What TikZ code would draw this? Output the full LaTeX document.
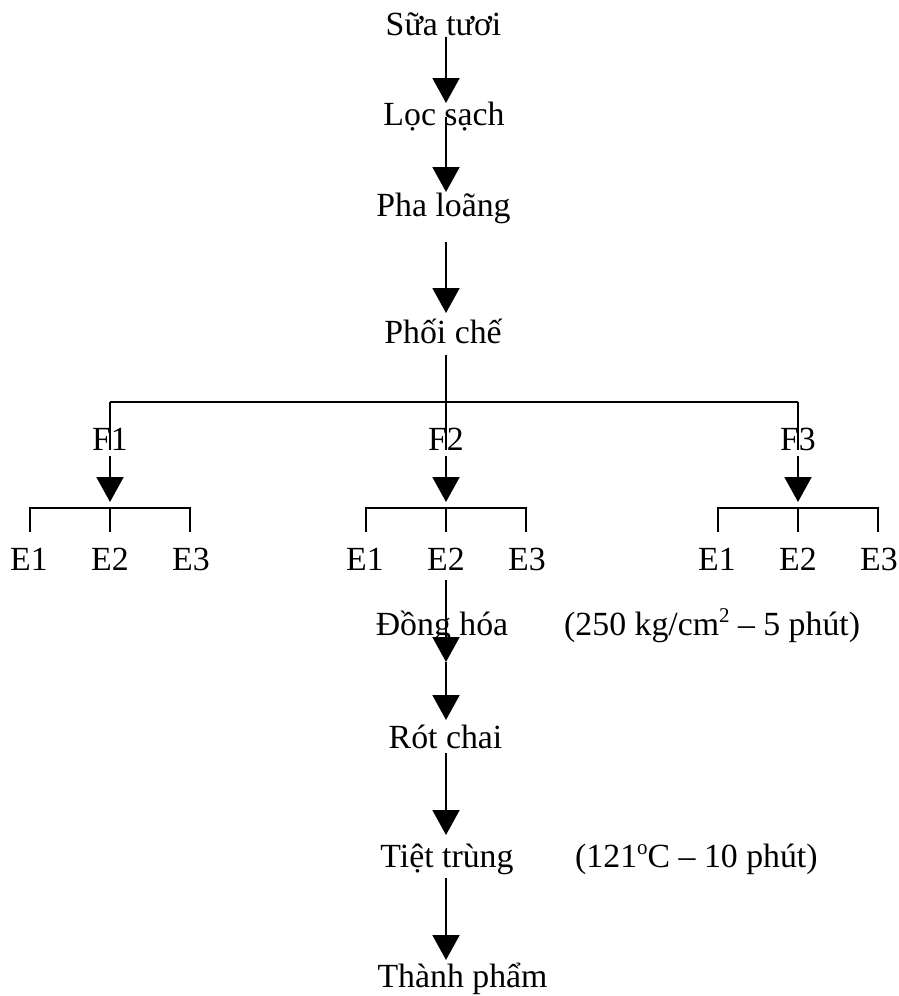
\documentclass[tikz,border=0pt]{standalone}
\usepackage{fontspec}
\setmainfont{Liberation Serif}
\usetikzlibrary{arrows.meta}
% small raised text for units and degrees
\newcommand\upscr[1]{\raisebox{0.36em}{\fontsize{21}{21}\selectfont #1}}
\begin{document}
\begin{tikzpicture}[x=1pt,y=-1pt,
  lbl/.style={inner sep=0pt, anchor=base, font=\fontsize{33.8}{40}\selectfont},
  note/.style={lbl, anchor=base west},
  link/.style={line width=2pt},
  flow/.style={link, -{Triangle[width=27pt,length=25pt]}}]
\useasboundingbox (0,0) rectangle (899,996);

% main process steps
\node[lbl] (sua)  at (443.5,35)  {Sữa tươi};
\node[lbl] (loc)  at (444,125)   {Lọc sạch};
\node[lbl] (pha)  at (443.5,216) {Pha loãng};
\node[lbl] (phoi) at (443,343)   {Phối chế};
\node[lbl] (dong) at (442,635)   {Đồng hóa};
\node[note] (dongnote) at (564,635) {(250 kg/cm\upscr{2} – 5 phút)};
\node[lbl] (rot)  at (445.5,748) {Rót chai};
\node[lbl] (tiet) at (447,867)   {Tiệt trùng};
\node[note] (tietnote) at (575,867) {(121\upscr{o}C – 10 phút)};
\node[lbl] (thanh) at (462.5,987) {Thành phẩm};

% arrow end points on the main axis
\coordinate (s1) at (446,37);   \coordinate (t1) at (446,103);
\coordinate (s2) at (446,117);  \coordinate (t2) at (446,192);
\coordinate (s3) at (446,242);  \coordinate (t3) at (446,313);
\coordinate (s4) at (446,355);  \coordinate (hub) at (446,402);
\coordinate (s5) at (446,580);  \coordinate (t5) at (446,662);
\coordinate (t6) at (446,720);
\coordinate (s7) at (446,753);  \coordinate (t7) at (446,835);
\coordinate (s8) at (446,878);  \coordinate (t8) at (446,960);

\draw[flow] (s1) -- (t1);
\draw[flow] (s2) -- (t2);
\draw[flow] (s3) -- (t3);
\draw[link] (s4) -- (hub);

% branch bar to the three formulas
\coordinate (h1) at (110,402);
\coordinate (h3) at (798,402);
\draw[link] (h1) -- (h3);

% formulas with their three sub-branches each
\foreach \f/\x in {1/110, 2/446, 3/798} {
  \node[lbl] (F\f) at (\x,450) {F\f};
  \coordinate (top\f) at (\x,402);
  \coordinate (from\f) at (\x,456);
  \coordinate (bar\f) at (\x,502);
  \draw[link] (top\f) -- (F\f.base);
  \draw[flow] (from\f) -- (bar\f);
  \coordinate (l\f) at (\x-80,508);
  \coordinate (m\f) at (\x,508);
  \coordinate (r\f) at (\x+80,508);
  \coordinate (lb\f) at (\x-80,532);
  \coordinate (mb\f) at (\x,532);
  \coordinate (rb\f) at (\x+80,532);
  \draw[link] (lb\f) -- (l\f) -- (r\f) -- (rb\f);
  \draw[link] (m\f) -- (mb\f);
  \node[lbl] (E1\f) at (\x-81,570) {E1};
  \node[lbl] (E2\f) at (\x,570)    {E2};
  \node[lbl] (E3\f) at (\x+81,570) {E3};
}

% lower part of the process
\draw[flow] (s5) -- (t5);
\draw[flow] (t5) -- (t6);
\draw[flow] (s7) -- (t7);
\draw[flow] (s8) -- (t8);
\end{tikzpicture}
\end{document}
